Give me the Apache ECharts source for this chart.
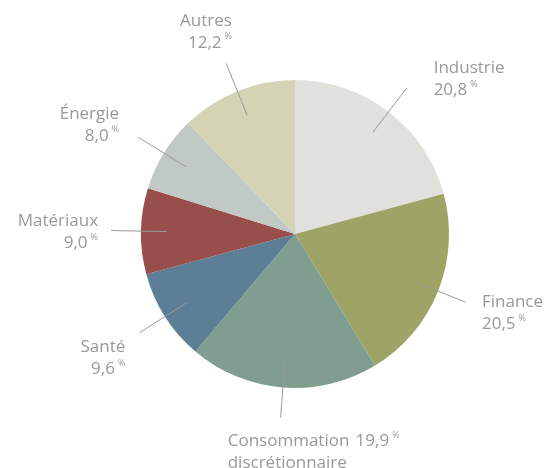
<!DOCTYPE html>
<html>
<head>
<meta charset="utf-8">
<script src="https://cdn.jsdelivr.net/npm/echarts@6/dist/echarts.min.js"></script>
<style>
html,body{margin:0;padding:0;background:#fff;}
#chart{width:550px;height:468px;}
</style>
</head>
<body>
<div id="chart"></div>
<script>
// ---- data ----
var categories = ['Industrie', 'Finance', 'Consommation discrétionnaire', 'Santé', 'Matériaux', 'Énergie', 'Autres'];
var values = [20.8, 20.5, 19.9, 9.6, 9.0, 8.0, 12.2];
var colors = ['#e0e0dc', '#9ea466', '#7f9e8f', '#5c7f96', '#984f4b', '#c0c9c3', '#d4d4b4'];

// label placement tweaks (layout only)
var labelAdjust = [
  {dx: 23, dy: -10, align: 'left'},
  {dx: 13, dy: 12, align: 'left'},
  {dx: -48, dy: 37, align: 'left'},
  {dx: -11, dy: 27, align: 'right'},
  {dx: -10, dy: 2, align: 'right'},
  {dx: -16, dy: -13, align: 'right'},
  {dx: 10, dy: -33, align: 'right'}
];

var chart = echarts.init(document.getElementById('chart'), null, {renderer: 'canvas'});

function fmtVal(v) { return v.toFixed(1).replace('.', ','); }

var pieData = categories.map(function (c, i) {
  return {name: c, value: values[i], itemStyle: {color: colors[i]}};
});
var ghostData = categories.map(function (c, i) {
  return {name: c, value: values[i], itemStyle: {color: 'rgba(0,0,0,0)'}};
});

var textColor = '#999999';
var font = '"Open Sans", sans-serif';
var fw = 500;

var center = [295, 234];

chart.setOption({
  animation: false,
  series: [
    {
      type: 'pie',
      center: center,
      radius: [0, 154],
      startAngle: 90,
      clockwise: true,
      silent: true,
      label: {show: false},
      labelLine: {show: false},
      itemStyle: {borderWidth: 0},
      data: pieData,
      z: 1
    },
    {
      type: 'pie',
      center: center,
      radius: [0, 128],
      startAngle: 90,
      clockwise: true,
      silent: true,
      avoidLabelOverlap: false,
      label: {show: true, position: 'outside', formatter: ' ', fontSize: 1},
      labelLine: {show: true, length: 56, length2: 0, smooth: false,
        lineStyle: {color: '#9a9a9a', width: 1}},
      itemStyle: {borderWidth: 0},
      data: ghostData,
      z: 2
    },
    {
      type: 'pie',
      center: center,
      radius: [0, 128],
      startAngle: 90,
      clockwise: true,
      silent: true,
      avoidLabelOverlap: false,
      labelLine: {show: false, length: 54, length2: 0},
      itemStyle: {borderWidth: 0},
      label: {
        show: true,
        position: 'outside',
        color: textColor,
        fontFamily: font,
        formatter: function (p) {
          var v = fmtVal(p.value);
          var parts = p.name.split(' ');
          if (parts.length > 1) {
            return '{n|' + parts[0] + '}  {v|' + v + '}{p|%}\n{n|' + parts.slice(1).join(' ') + '}';
          }
          return '{n|' + p.name + '}\n{v|' + v + '}{p|%}';
        },
        rich: {
          n: {fontSize: 17, fontFamily: font, fontWeight: fw, color: textColor, lineHeight: 22},
          v: {fontSize: 17, fontFamily: font, fontWeight: fw, color: textColor, lineHeight: 22},
          p: {fontSize: 9, fontFamily: font, fontWeight: fw, color: textColor, lineHeight: 22, verticalAlign: 'top', padding: [0, 0, 0, 3]}
        }
      },
      labelLayout: function (params) {
        var a = labelAdjust[params.dataIndex];
        return {dx: a.dx, dy: a.dy, align: a.align};
      },
      data: ghostData,
      z: 3
    }
  ]
});
</script>
</body>
</html>
